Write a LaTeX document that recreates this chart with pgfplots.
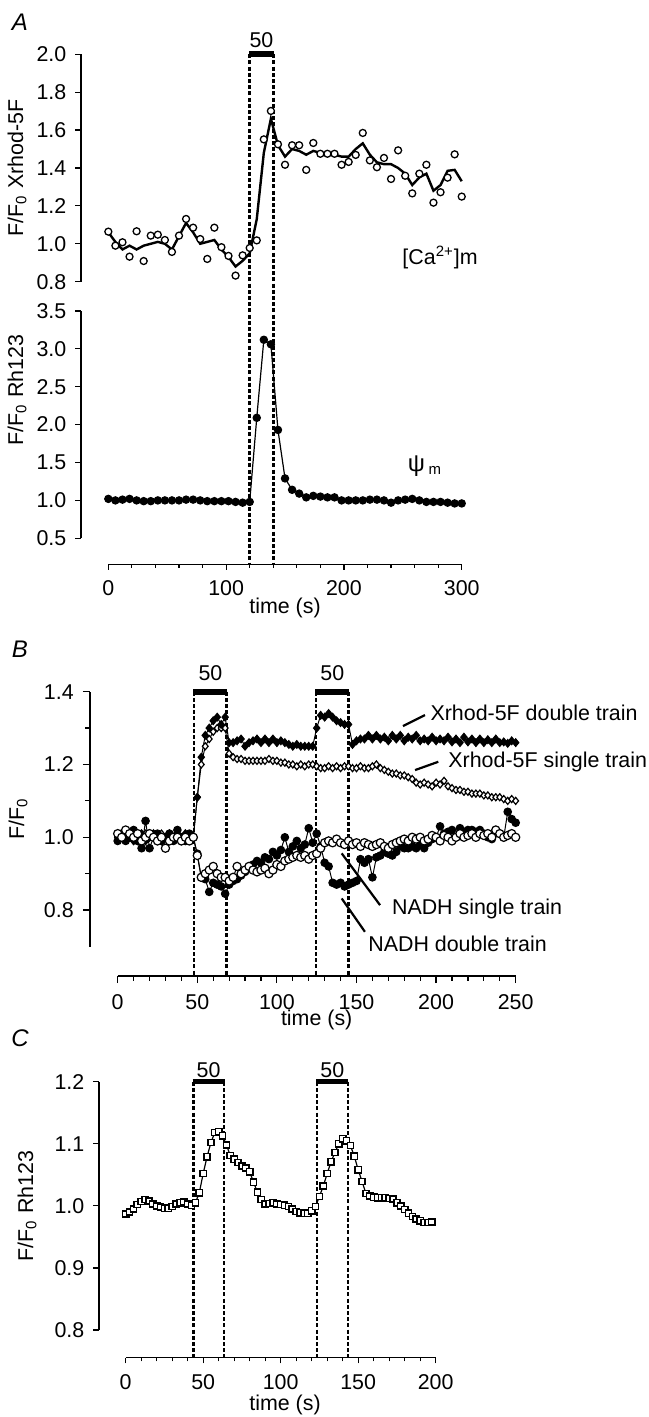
\documentclass[border=0pt]{standalone}
\usepackage{fontspec}
\setmainfont{Liberation Sans}
\usepackage{pgfplots}
\pgfplotsset{compat=1.18}
\newcommand{\fs}{\fontsize{10.7}{12.8}\selectfont}
\pgfplotsset{
  myax/.style={
    scale only axis, anchor=south west,
    axis x line*=bottom, axis y line*=left,
    axis line style={draw=none},
    tick align=outside,
    major tick length=2.8pt, minor tick length=1.8pt,
    tick style={black, line width=0.6pt},
    /pgf/number format/assume math mode=true,
    yticklabel style={/pgf/number format/fixed, /pgf/number format/fixed zerofill, /pgf/number format/precision=1, xshift=-1pt},
    xticklabel style={yshift=-2pt},
    clip=false,
    font=\fs,
  },
}
\tikzset{
  stim/.style={line width=1.3pt, dash pattern=on 2pt off 1.1pt},
  bar/.style={line width=2.9pt},
  axl/.style={line width=0.7pt},
}
\begin{document}
\begin{tikzpicture}[font=\fs]
\useasboundingbox (0,0) rectangle (324pt,708.5pt);

% ---------------- Panel A top ----------------
\begin{axis}[myax, at={(40.5pt,567.65pt)}, width=196.25pt, height=113.7pt,
  xmin=-23.2, xmax=310, ymin=0.8, ymax=2.0,
  xtick=\empty, ytick={0.8,1.0,1.2,1.4,1.6,1.8,2.0}]
\addplot[black, line width=1.2pt, no marks] coordinates {
(0,1.06)(6,1.01)(12,0.97)(18,0.99)(24,0.97)(30,0.99)(36,1.00)(42,1.01)(48,1.00)(54,0.97)
(60,1.04)(66,1.11)(72,1.06)(78,1.00)(84,1.01)(90,1.02)(96,0.97)(102,0.93)(108,0.88)(114,0.91)
(120,0.95)(126,1.13)(132,1.48)(138,1.66)(144,1.52)(150,1.46)(156,1.50)(162,1.49)(168,1.47)(174,1.49)
(180,1.48)(186,1.47)(192,1.47)(198,1.46)(204,1.46)(210,1.50)(216,1.53)(222,1.47)(228,1.43)(234,1.42)
(240,1.42)(246,1.40)(252,1.37)(258,1.31)(264,1.35)(270,1.37)(276,1.28)(282,1.31)(288,1.385)(294,1.39)(300,1.33)};
\addplot[only marks, mark=*, mark size=1.75pt, mark options={fill=white, draw=black, line width=0.65pt}] coordinates {
(0,1.064)(6,0.99)(12,1.008)(18,0.932)(24,1.066)(30,0.909)(36,1.043)(42,1.048)(48,1.02)(54,0.957)
(60,1.043)(66,1.131)(72,1.085)(78,1.025)(84,0.92)(90,1.085)(96,0.982)(102,0.936)(108,0.832)(114,0.939)
(120,0.978)(126,1.018)(132,1.551)(138,1.701)(144,1.525)(150,1.417)(156,1.52)(162,1.52)(168,1.39)(174,1.532)
(180,1.475)(186,1.475)(192,1.475)(198,1.417)(204,1.432)(210,1.469)(216,1.585)(222,1.44)(228,1.404)(234,1.453)
(240,1.342)(246,1.493)(252,1.359)(258,1.266)(264,1.37)(270,1.417)(276,1.217)(282,1.272)(288,1.349)(294,1.472)(300,1.249)};
\draw[axl] (axis cs:-23.2,0.8) -- (axis cs:-23.2,2.0);
\draw[stim] (axis cs:120,2.0) -- (axis cs:120,-0.691);
\draw[stim] (axis cs:140,2.0) -- (axis cs:140,-0.691);
\draw[bar] (axis cs:119.6,2.0) -- (axis cs:140.4,2.0);
\node at (axis cs:130,2.074) {50};
\node at (axis cs:281.6,0.93) {[Ca\textsuperscript{2+}]m};
\end{axis}

% ---------------- Panel A bottom ----------------
\begin{axis}[myax, at={(40.5pt,426.35pt)}, width=196.25pt, height=126.65pt,
  xmin=-23.2, xmax=310, ymin=0.1568, ymax=3.5,
  xtick={0,100,200,300}, minor xtick={20,40,60,80,120,140,160,180,220,240,260,280},
  ytick={0.5,1.0,1.5,2.0,2.5,3.0,3.5},
  xticklabel style={/pgf/number format/fixed, /pgf/number format/precision=0}]
\addplot[black, line width=0.6pt, mark=*, mark size=1.8pt, mark options={fill=black}] coordinates {
(0,1.02)(6,1.00)(12,1.01)(18,1.02)(24,1.00)(30,0.99)(36,0.99)(42,1.00)(48,1.00)(54,1.00)
(60,1.00)(66,1.01)(72,1.01)(78,1.00)(84,0.99)(90,0.99)(96,0.99)(102,0.99)(108,0.98)(114,0.97)
(120,0.98)(126,2.09)(132,3.12)(138,3.06)(144,1.93)(150,1.29)(156,1.14)(162,1.09)(168,1.04)(174,1.06)
(180,1.05)(186,1.04)(192,1.04)(198,1.00)(204,1.00)(210,1.00)(216,1.00)(222,1.01)(228,1.01)(234,1.00)
(240,0.97)(246,1.00)(252,1.01)(258,1.02)(264,1.00)(270,0.98)(276,0.98)(282,0.98)(288,0.97)(294,0.96)(300,0.96)};
\draw[axl] (axis cs:-23.2,0.5) -- (axis cs:-23.2,3.5);
\draw[axl] (axis cs:0,0.1568) -- (axis cs:300,0.1568);
\node at (axis cs:268.8,1.454) {{\fontsize{12}{14}\selectfont ψ}\,\textsubscript{m}};
\end{axis}

% ---------------- Panel B ----------------
\begin{axis}[myax, at={(45pt,220.5pt)}, width=220.8pt, height=142.15pt,
  xmin=-17.4, xmax=260, ymin=0.619, ymax=1.4,
  major tick length=3.6pt, minor tick length=2.3pt,
  xtick={0,50,100,150,200,250}, minor xtick={10,20,30,40,60,70,80,90,110,120,130,140,160,170,180,190,210,220,230,240},
  ytick={0.8,1.0,1.2,1.4}, minor ytick={0.9,1.1,1.3}]
% single train diamonds (open)
\addplot[black, line width=0.5pt, mark=diamond*, mark size=1.75pt, mark options={fill=white, draw=black, line width=0.6pt, xscale=1.1}] coordinates {
(0,1.01)(2.5,1.00)(5,1.02)(7.5,1.00)(10,1.01)(12.5,0.99)(15,1.00)(17.5,1.01)(20,1.00)(22.5,1.00)(25,0.99)(27.5,1.01)(30,1.00)(32.5,0.99)(35,1.00)(37.5,1.01)(40,1.00)(42.5,0.99)(45,1.00)(47.5,1.00)
(50,1.11)(52.5,1.20)(55,1.25)(57.5,1.27)(60,1.29)(62.5,1.30)(65,1.30)(67.5,1.30)
(70,1.23)(72.5,1.22)(75,1.215)(77.5,1.215)(80,1.21)(82.5,1.21)(85,1.21)(87.5,1.21)(90,1.21)(92.5,1.21)(95,1.215)(97.5,1.21)(100,1.21)(102.5,1.205)(105,1.205)(107.5,1.20)(110,1.20)(112.5,1.195)(115,1.20)(117.5,1.195)(120,1.20)(122.5,1.20)(125,1.195)(127.5,1.19)(130,1.19)(132.5,1.195)(135,1.19)(137.5,1.195)(140,1.19)(142.5,1.195)(145,1.195)(147.5,1.19)(150,1.19)(152.5,1.195)(155,1.19)(157.5,1.19)(160,1.195)(162.5,1.20)(165,1.19)(167.5,1.185)(170,1.18)(172.5,1.175)(175,1.175)(177.5,1.17)(180,1.17)(182.5,1.165)(185,1.16)(187.5,1.15)(190,1.145)(192.5,1.15)(195,1.145)(197.5,1.14)(200,1.15)(202.5,1.145)(205,1.155)(207.5,1.14)(210,1.135)(212.5,1.13)(215,1.13)(217.5,1.125)(220,1.125)(222.5,1.12)(225,1.12)(227.5,1.12)(230,1.115)(232.5,1.115)(235,1.11)(237.5,1.11)(240,1.11)(242.5,1.105)(245,1.10)(247.5,1.105)(250,1.10)};
% double train diamonds (filled)
\addplot[black, line width=0.5pt, mark=diamond*, mark size=1.95pt, mark options={fill=black, xscale=1.1}] coordinates {
(0,1.00)(2.5,1.01)(5,1.00)(7.5,1.01)(10,0.99)(12.5,1.00)(15,1.01)(17.5,0.99)(20,1.00)(22.5,1.01)(25,1.00)(27.5,0.99)(30,1.00)(32.5,1.01)(35,1.00)(37.5,1.00)(40,0.99)(42.5,1.01)(45,1.00)(47.5,1.00)
(50,1.11)(52.5,1.22)(55,1.28)(57.5,1.30)(60,1.32)(62.5,1.33)(65,1.31)(67.5,1.33)
(70,1.26)(72.5,1.26)(75,1.265)(77.5,1.27)(80,1.25)(82.5,1.26)(85,1.265)(87.5,1.27)(90,1.26)(92.5,1.27)(95,1.26)(97.5,1.27)(100,1.26)(102.5,1.265)(105,1.26)(107.5,1.255)(110,1.25)(112.5,1.255)(115,1.25)(117.5,1.25)(120,1.25)(122.5,1.25)
(125,1.30)(127.5,1.335)(130,1.33)(132.5,1.34)(135,1.33)(137.5,1.32)(140,1.315)(142.5,1.31)(145,1.31)
(147.5,1.255)(150,1.265)(152.5,1.27)(155,1.27)(157.5,1.28)(160,1.27)(162.5,1.28)(165,1.27)(167.5,1.275)(170,1.265)(172.5,1.28)(175,1.27)(177.5,1.28)(180,1.265)(182.5,1.275)(185,1.27)(187.5,1.28)(190,1.265)(192.5,1.27)(195,1.265)(197.5,1.275)(200,1.265)(202.5,1.27)(205,1.265)(207.5,1.275)(210,1.262)(212.5,1.27)(215,1.26)(217.5,1.275)(220,1.262)(222.5,1.27)(225,1.26)(227.5,1.27)(230,1.26)(232.5,1.268)(235,1.26)(237.5,1.27)(240,1.26)(242.5,1.262)(245,1.258)(247.5,1.265)(250,1.26)};
% NADH double train (filled circles)
\addplot[black, line width=0.5pt, mark=*, mark size=1.9pt, mark options={fill=black}] coordinates {
(0,0.99)(2.5,1.01)(5,0.99)(7.5,1.00)(10,1.02)(12.5,0.99)(15,0.97)(17.5,1.045)(20,0.97)(22.5,1.00)(25,1.01)(27.5,0.99)(30,1.00)(32.5,1.01)(35,0.99)(37.5,1.02)(40,1.00)(42.5,0.99)(45,1.01)(47.5,1.00)
(50,0.955)(52.5,0.89)(55,0.885)(57.5,0.85)(60,0.875)(62.5,0.87)(65,0.865)(67.5,0.845)(70,0.87)(72.5,0.88)(75,0.885)(77.5,0.895)(80,0.905)(82.5,0.92)(85,0.925)(87.5,0.935)(90,0.93)(92.5,0.945)(95,0.94)(97.5,0.96)(100,0.95)(102.5,0.965)(105,1.00)(107.5,0.96)(110,0.975)(112.5,0.99)(115,0.97)(117.5,0.98)(120,1.025)(122.5,0.985)(125,1.01)(127.5,0.975)(130,0.93)(132.5,0.92)(135,0.875)(137.5,0.87)(140,0.875)(142.5,0.865)(145,0.87)(147.5,0.875)(150,0.88)(152.5,0.94)(155,0.93)(157.5,0.94)(160,0.89)(162.5,0.945)(165,0.95)(167.5,0.96)(170,0.955)(172.5,0.95)(175,0.96)(177.5,0.975)(180,0.97)(182.5,0.97)(185,0.975)(187.5,0.97)(190,0.98)(192.5,0.97)(195,0.985)(197.5,0.995)(200,1.00)(202.5,1.03)(205,1.01)(207.5,1.015)(210,1.02)(212.5,1.00)(215,1.025)(217.5,1.015)(220,1.02)(222.5,1.02)(225,1.015)(227.5,1.02)(230,1.01)(232.5,1.00)(235,0.995)(237.5,1.02)(240,1.01)(242.5,1.00)(245,1.07)(247.5,1.05)(250,1.04)};
% NADH single train (open circles)
\addplot[black, line width=0.5pt, mark=*, mark size=2.05pt, mark options={fill=white, draw=black, line width=0.6pt}] coordinates {
(0,1.01)(2.5,1.00)(5,1.02)(7.5,1.01)(10,1.00)(12.5,1.01)(15,0.99)(17.5,1.00)(20,1.01)(22.5,1.00)(25,0.99)(27.5,1.00)(30,0.97)(32.5,0.99)(35,1.00)(37.5,1.00)(40,0.99)(42.5,1.00)(45,0.99)(47.5,1.00)
(50,0.95)(52.5,0.89)(55,0.90)(57.5,0.91)(60,0.92)(62.5,0.90)(65,0.89)(67.5,0.89)(70,0.88)(72.5,0.89)(75,0.92)(77.5,0.90)(80,0.91)(82.5,0.92)(85,0.91)(87.5,0.905)(90,0.91)(92.5,0.915)(95,0.90)(97.5,0.91)(100,0.925)(102.5,0.92)(105,0.935)(107.5,0.94)(110,0.945)(112.5,0.95)(115,0.945)(117.5,0.95)(120,0.94)(122.5,0.95)(125,0.955)(127.5,0.97)(130,0.985)(132.5,0.99)(135,0.985)(137.5,0.995)(140,0.985)(142.5,0.98)(145,0.99)(147.5,0.98)(150,0.985)(152.5,0.975)(155,0.985)(157.5,0.98)(160,0.975)(162.5,0.98)(165,0.985)(167.5,0.975)(170,0.97)(172.5,0.98)(175,0.985)(177.5,0.99)(180,0.995)(182.5,0.99)(185,1.00)(187.5,0.995)(190,1.00)(192.5,0.99)(195,0.995)(197.5,1.005)(200,1.00)(202.5,0.99)(205,1.005)(207.5,1.00)(210,0.99)(212.5,1.00)(215,1.01)(217.5,1.00)(220,1.005)(222.5,1.01)(225,1.00)(227.5,1.01)(230,1.005)(232.5,1.01)(235,1.00)(237.5,1.02)(240,1.01)(242.5,1.00)(245,1.005)(247.5,1.01)(250,1.00)};
\draw[axl] (axis cs:-17.4,0.7) -- (axis cs:-17.4,1.4);
\draw[axl] (axis cs:0,0.619) -- (axis cs:250,0.619);
\draw[stim] (axis cs:48,1.4) -- (axis cs:48,0.619);
\draw[stim] (axis cs:68.5,1.4) -- (axis cs:68.5,0.619);
\draw[stim] (axis cs:124.6,1.4) -- (axis cs:124.6,0.619);
\draw[stim] (axis cs:145.1,1.4) -- (axis cs:145.1,0.619);
\draw[bar] (axis cs:47.6,1.4) -- (axis cs:68.9,1.4);
\draw[bar] (axis cs:124.2,1.4) -- (axis cs:145.5,1.4);
\node at (axis cs:58.25,1.452) {50};
\node at (axis cs:134.85,1.452) {50};
\draw[line width=1.1pt] (axis cs:179.2,1.3055) -- (axis cs:193.0,1.3357);
\node[anchor=west, inner sep=0pt] at (axis cs:196.3,1.341) {Xrhod-5F double train};
\draw[line width=1.1pt] (axis cs:186.8,1.1846) -- (axis cs:201.4,1.2074);
\node[anchor=west, inner sep=0pt] at (axis cs:207.5,1.2074) {Xrhod-5F single train};
\draw[line width=1.1pt] (axis cs:140.7,0.9558) -- (axis cs:164.8,0.8137);
\node[anchor=west, inner sep=0pt] at (axis cs:172.1,0.802) {NADH single train};
\draw[line width=1.1pt] (axis cs:140.7,0.832) -- (axis cs:155.3,0.7404);
\node[anchor=west, inner sep=0pt] at (axis cs:157.2,0.7066) {NADH double train};
\end{axis}

% ---------------- Panel C ----------------
\begin{axis}[myax, at={(49.5pt,29.65pt)}, width=176.1pt, height=138pt,
  xmin=-17.2, xmax=210, ymin=0.7554, ymax=1.2,
  xtick={0,50,100,150,200}, minor xtick={10,20,30,40,60,70,80,90,110,120,130,140,160,170,180,190},
  ytick={0.8,0.9,1.0,1.1,1.2}]
\addplot[black, line width=0.6pt, mark=square*, mark size=1.55pt, mark options={fill=white, draw=black, line width=0.75pt}] coordinates {
(0,0.987)(2.5,0.99)(5,0.995)(7.5,1.002)(10,1.007)(12.5,1.01)(15,1.008)(17.5,1.003)(20,1.0)(22.5,0.998)(25,0.996)(27.5,0.996)(30,0.999)(32.5,1.003)(35,1.005)(37.5,1.006)(40,1.003)(42.5,1.001)(45,1.005)(47.5,1.021)
(50,1.052)(52.5,1.079)(55,1.102)(57.5,1.118)(60,1.12)(62.5,1.113)(65,1.098)(67.5,1.081)(70,1.075)(72.5,1.07)(75,1.064)(77.5,1.061)(80,1.055)(82.5,1.038)(85,1.022)(87.5,1.01)(90,1.003)(92.5,1.004)(95,1.005)(97.5,1.003)
(100,1.002)(102.5,1.001)(105,0.999)(107.5,0.995)(110,0.991)(112.5,0.989)(115,0.988)(117.5,0.988)(120,0.992)(122.5,0.999)(125,1.015)(127.5,1.032)(130,1.052)(132.5,1.071)(135,1.086)(137.5,1.1)(140,1.108)(142.5,1.105)(145,1.097)(147.5,1.08)
(150,1.058)(152.5,1.039)(155,1.02)(157.5,1.016)(160,1.014)(162.5,1.013)(165,1.013)(167.5,1.013)(170,1.012)(172.5,1.011)(175,1.005)(177.5,1.0)(180,0.994)(182.5,0.988)(185,0.983)(187.5,0.979)(190,0.976)(192.5,0.973)(195,0.973)(197.5,0.974)};
\draw[axl] (axis cs:-17.2,0.8) -- (axis cs:-17.2,1.2);
\draw[axl] (axis cs:0,0.7554) -- (axis cs:200,0.7554);
\draw[stim] (axis cs:43.6,1.2) -- (axis cs:43.6,0.7554);
\draw[stim] (axis cs:63.4,1.2) -- (axis cs:63.4,0.7554);
\draw[stim] (axis cs:123.4,1.2) -- (axis cs:123.4,0.7554);
\draw[stim] (axis cs:143.3,1.2) -- (axis cs:143.3,0.7554);
\draw[line width=2.2pt] (axis cs:43.2,1.2) -- (axis cs:63.8,1.2);
\draw[line width=2.2pt] (axis cs:123.0,1.2) -- (axis cs:143.7,1.2);
\node at (axis cs:53.5,1.2193) {50};
\node at (axis cs:133.35,1.2193) {50};
\end{axis}

% ---------------- free labels ----------------
\node[font=\fontsize{12}{14}\selectfont\itshape] at (10pt,697.5pt) {A};
\node[font=\fontsize{12}{14}\selectfont\itshape] at (10pt,384pt) {B};
\node[font=\fontsize{12}{14}\selectfont\itshape] at (10pt,189.5pt) {C};
\node[rotate=90] at (8.5pt,624.5pt) {F/F\textsubscript{0} Xrhod-5F};
\node[rotate=90] at (8.5pt,513.5pt) {F/F\textsubscript{0} Rh123};
\node[rotate=90] at (9pt,299pt) {F/F\textsubscript{0}};
\node[rotate=90] at (13.5pt,105.5pt) {F/F\textsubscript{0} Rh123};
\node at (142.5pt,404.5pt) {time (s)};
\node at (158.35pt,198.5pt) {time (s)};
\node at (142.5pt,6pt) {time (s)};
\end{tikzpicture}
\end{document}
